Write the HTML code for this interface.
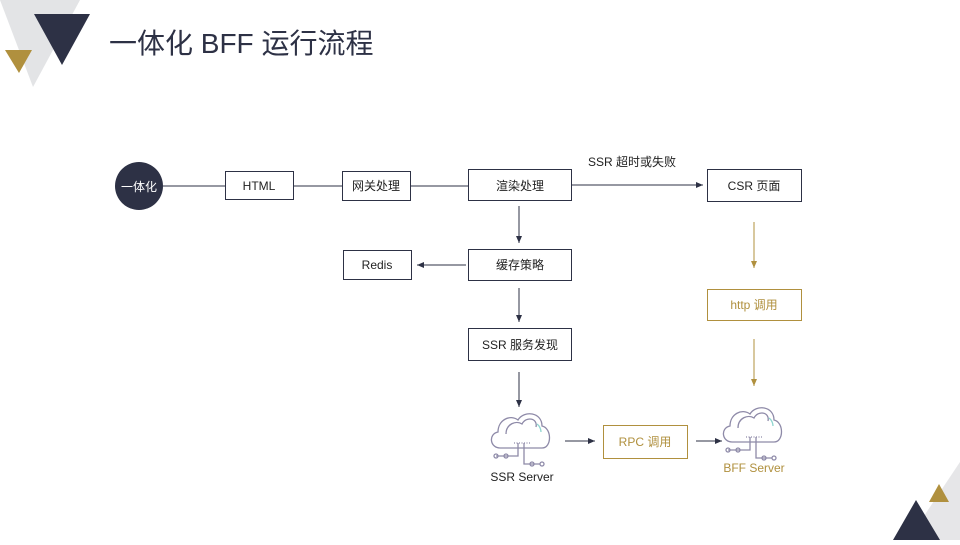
<!DOCTYPE html>
<html><head><meta charset="utf-8"><style>
body{margin:0;width:960px;height:540px;overflow:hidden;background:#fff;font-family:"Liberation Sans","Noto Sans CJK SC",sans-serif}
</style></head><body>
<svg width="960" height="540" viewBox="0 0 960 540" xmlns="http://www.w3.org/2000/svg" font-family="Liberation Sans, Noto Sans CJK SC, sans-serif">
<defs>
<marker id="a" markerWidth="8" markerHeight="8" refX="7" refY="4" orient="auto" markerUnits="userSpaceOnUse"><path d="M0,1 L7,4 L0,7 z" fill="#2d3145"/></marker>
<marker id="g" markerWidth="8" markerHeight="8" refX="7" refY="4" orient="auto" markerUnits="userSpaceOnUse"><path d="M0,1 L7,4 L0,7 z" fill="#b0903e"/></marker>
<g id="cloud" fill="none" stroke="#8e8aa8" stroke-width="1.3">
<path d="M-20,20 C-30,20 -32,6 -22,4 C-22,-8 -10,-14 -2,-8 C4,-18 22,-16 22,-2 C32,0 32,20 22,20 Z"/>
<path d="M-14,6 C-14,-4 -4,-8 2,-4 C6,-12 18,-10 16,-1" />
<path d="M17,-4 C20,-2 21,2 21,4" stroke="#8fd6d0"/>
<path d="M-6,15 L10,15" stroke-dasharray="1,1.5"/>
<path d="M-2,15 V28 H-24 M4,15 V36 H20"/>
<circle cx="-24" cy="28" r="2"/><circle cx="-14" cy="28" r="2"/><circle cx="12" cy="36" r="2"/><circle cx="22" cy="36" r="2"/>
</g>
</defs>
<polygon points="0,0 80,0 33,87" fill="#e3e4e6"/>
<polygon points="34,14 90,14 62,65" fill="#2d3145"/>
<polygon points="5,50 32,50 19,73" fill="#b0903e"/>
<polygon points="960,462 960,540 908,540" fill="#e6e6e8"/>
<polygon points="916,500 940,540 893,540" fill="#2d3145"/>
<polygon points="939,484 949,502 929,502" fill="#b0903e"/>
<text x="109" y="53" font-size="28" fill="#2d3145">一体化 BFF 运行流程</text>
<circle cx="139" cy="186" r="24" fill="#2d3145"/>
<text x="139" y="191" font-size="12" fill="#fff" text-anchor="middle">一体化</text>
<g stroke="#2d3145" stroke-width="1" fill="none">
<line x1="163" y1="186" x2="225" y2="186"/>
<line x1="293" y1="186" x2="342" y2="186"/>
<line x1="410" y1="186" x2="468" y2="186"/>
<line x1="571" y1="185" x2="703" y2="185" marker-end="url(#a)"/>
<line x1="519" y1="206" x2="519" y2="243" marker-end="url(#a)"/>
<line x1="466" y1="265" x2="417" y2="265" marker-end="url(#a)"/>
<line x1="519" y1="288" x2="519" y2="322" marker-end="url(#a)"/>
<line x1="519" y1="372" x2="519" y2="407" marker-end="url(#a)"/>
<line x1="565" y1="441" x2="595" y2="441" marker-end="url(#a)"/>
<line x1="696" y1="441" x2="722" y2="441" marker-end="url(#a)"/>
</g>
<g stroke="#b0903e" fill="none">
<line x1="754" y1="222" x2="754" y2="268" marker-end="url(#g)"/>
<line x1="754" y1="339" x2="754" y2="386" marker-end="url(#g)"/>
</g>
<g fill="#fff" stroke="#2d3145" stroke-width="1">
<rect x="225.5" y="171.5" width="68" height="28"/>
<rect x="342.5" y="171.5" width="68" height="29"/>
<rect x="468.5" y="169.5" width="103" height="31"/>
<rect x="707.5" y="169.5" width="94" height="32"/>
<rect x="343.5" y="250.5" width="68" height="29"/>
<rect x="468.5" y="249.5" width="103" height="31"/>
<rect x="468.5" y="328.5" width="103" height="32"/>
</g>
<g fill="#fff" stroke="#b0903e" stroke-width="1">
<rect x="707.5" y="289.5" width="94" height="31"/>
<rect x="603.5" y="425.5" width="84" height="33"/>
</g>
<g font-size="12" fill="#222" text-anchor="middle">
<text x="259" y="190">HTML</text>
<text x="376" y="190">网关处理</text>
<text x="520" y="190">渲染处理</text>
<text x="754" y="190">CSR 页面</text>
<text x="377" y="269">Redis</text>
<text x="520" y="269">缓存策略</text>
<text x="520" y="349">SSR 服务发现</text>
<text x="632" y="166">SSR 超时或失败</text>
<text x="522" y="481">SSR Server</text>
</g>
<g font-size="12" fill="#b0903e" text-anchor="middle">
<text x="754" y="309">http 调用</text>
<text x="645" y="446">RPC 调用</text>
<text x="754" y="472">BFF Server</text>
</g>
<use href="#cloud" x="520" y="428"/>
<use href="#cloud" x="752" y="422"/>
</svg>
</body></html>
